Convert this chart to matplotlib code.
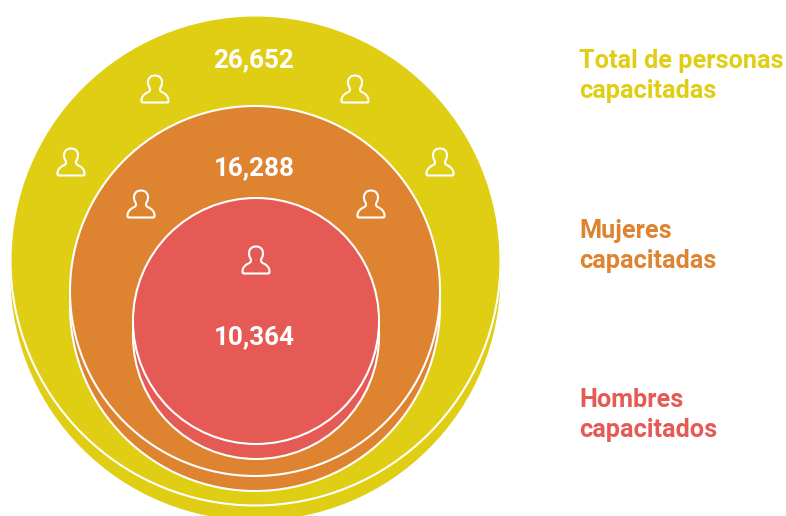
import matplotlib
matplotlib.use("Agg")
import matplotlib.pyplot as plt
from matplotlib.patches import Circle, PathPatch
from matplotlib.path import Path

plt.rcParams['font.family'] = ['Roboto', 'DejaVu Sans']

# datos
grupos = ["Total de personas\ncapacitadas", "Mujeres\ncapacitadas", "Hombres\ncapacitados"]
valores = [26652, 16288, 10364]
colores = ["#E0CE15", "#DE8330", "#E65A55"]

# geometria en pixeles de la imagen
radios = [245, 185, 123]
centros_y = [260.5, 291, 321]
centro_x = [255.5, 255, 256]
desplaz = 15
texto_x = [254, 254.5, 254.5]
valor_y = [60, 168, 337]
leyenda_y = [76, 246, 415]
iconos = [(155, 89), (355, 89), (71, 162), (440, 162), (141, 204), (371, 204), (256, 260)]

BLANCO = "white"


def icono_persona(ax, cx, cy):
    M, L, C = Path.MOVETO, Path.LINETO, Path.CURVE4
    pts = [(-12, 13.5), (12, 13.5),
           (13.5, 13.5), (13.5, 12.5), (13.5, 11.5),
           (13.5, 7), (10, 4.5), (7, 3.2),
           (4.5, 2), (4.5, 0), (6, -2.5),
           (8, -6), (7.5, -13.5), (0, -13.5),
           (-7.5, -13.5), (-8, -6), (-6, -2.5),
           (-4.5, 0), (-4.5, 2), (-7, 3.2),
           (-10, 4.5), (-13.5, 7), (-13.5, 11.5),
           (-13.5, 12.5), (-13.5, 13.5), (-12, 13.5)]
    codes = [M, L] + [C] * 24
    pts = [(cx + x, cy + y) for x, y in pts]
    ax.add_patch(PathPatch(Path(pts, codes), fill=False, ec=BLANCO, lw=1.5, zorder=10, joinstyle="round"))


fig = plt.figure(figsize=(7.86, 5.16), dpi=100)
ax = fig.add_axes([0, 0, 1, 1])
ax.set_xlim(0, 786)
ax.set_ylim(516, 0)
ax.axis("off")

z = 1
for i in range(len(valores)):
    # disco de abajo, asoma como sombra
    ax.add_patch(Circle((centro_x[i], centros_y[i] + desplaz), radios[i], fc=colores[i],
                        ec=BLANCO if i > 0 else "none", lw=1.5, zorder=z))
    ax.add_patch(Circle((centro_x[i], centros_y[i]), radios[i], fc=colores[i],
                        ec=BLANCO, lw=1.5, zorder=z + 1))
    z += 2

for i, v in enumerate(valores):
    ax.text(texto_x[i], valor_y[i], f"{v:,}", color=BLANCO, fontsize=18.7,
            fontweight="bold", ha="center", va="center", zorder=11)
    ax.text(579, leyenda_y[i], grupos[i], color=colores[i], fontsize=18.2, fontweight="bold",
            ha="left", va="center", linespacing=1.27, zorder=11)

for x, y in iconos:
    icono_persona(ax, x, y)

fig.savefig("out.png", dpi=100)
